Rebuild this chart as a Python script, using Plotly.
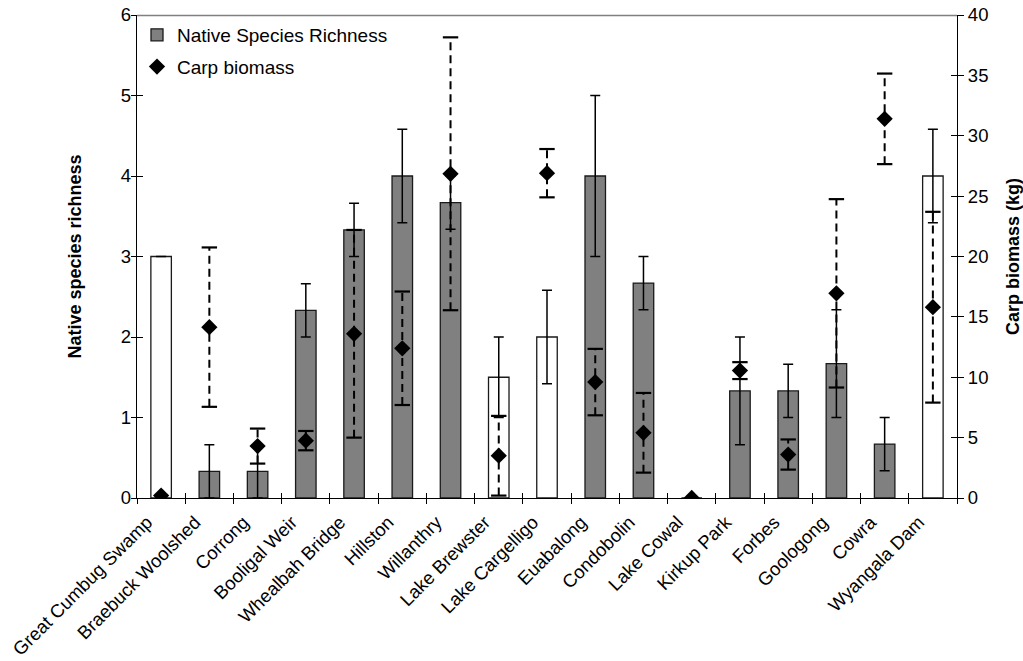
import plotly.graph_objects as go

# Sites along the Lachlan system, upstream to downstream order as plotted
sites = [
    "Great Cumbug Swamp", "Braebuck Woolshed", "Corrong", "Booligal Weir",
    "Whealbah Bridge", "Hillston", "Willanthry", "Lake Brewster",
    "Lake Cargelligo", "Euabalong", "Condobolin", "Lake Cowal",
    "Kirkup Park", "Forbes", "Goologong", "Cowra", "Wyangala Dam",
]
# Habitat type of each site (lentic sites drawn as open bars)
habitat = [
    "lentic", "riverine", "riverine", "riverine", "riverine", "riverine",
    "riverine", "lentic", "lentic", "riverine", "riverine", "lentic",
    "riverine", "riverine", "riverine", "riverine", "lentic",
]
native_richness = [3.0, 0.33, 0.33, 2.33, 3.33, 4.0, 3.67, 1.5, 2.0, 4.0,
                   2.67, 0.0, 1.33, 1.33, 1.67, 0.67, 4.0]
native_se = [None, 0.33, 0.33, 0.33, 0.33, 0.58, 0.33, 0.5, 0.58, 1.0,
             0.33, None, 0.67, 0.33, 0.67, 0.33, 0.58]
carp_biomass = [0.2, 14.15, 4.3, 4.75, 13.6, 12.4, 26.85, 3.5, 26.9, 9.6,
                5.4, 0.0, 10.55, 3.6, 16.95, 31.4, 15.8]
carp_se = [None, 6.6, 1.45, 0.8, 8.6, 4.7, 11.3, 3.3, 2.0, 2.75,
           3.3, None, 0.7, 1.25, 7.8, 3.75, 7.9]

FONT = "Liberation Sans, Arial, sans-serif"
fill = {"riverine": "#808080", "lentic": "#ffffff"}
n = len(sites)

fig = go.Figure()

# Native species richness bars with SE
for hab, show in (("riverine", True), ("lentic", False)):
    idx = [i for i, h in enumerate(habitat) if h == hab]
    fig.add_trace(go.Bar(
        x=[sites[i] for i in idx],
        y=[native_richness[i] for i in idx],
        error_y=dict(type="data", array=[native_se[i] for i in idx],
                     visible=True, color="#000000", thickness=1.5, width=5),
        marker=dict(color=fill[hab], line=dict(color="#1a1a1a", width=1.3)),
        name="Native Species Richness", showlegend=show,
        legendgroup="native", xaxis="x", yaxis="y",
    ))

# Carp biomass: dashed SE whiskers, caps and diamond means on the right axis
wx, wy, cx, cy = [], [], [], []
for s, v, e in zip(sites, carp_biomass, carp_se):
    if e is None:
        continue
    wx += [s, s, None]
    wy += [v - e, v + e, None]
    cx += [s, s]
    cy += [v - e, v + e]

fig.add_trace(go.Scatter(
    x=wx, y=wy, mode="lines", line=dict(color="#000000", width=2, dash="8px,5px"),
    showlegend=False, hoverinfo="skip", xaxis="x", yaxis="y2",
))
fig.add_trace(go.Scatter(
    x=cx, y=cy, mode="markers",
    marker=dict(symbol="line-ew", size=11, line=dict(color="#000000", width=2.2)),
    showlegend=False, hoverinfo="skip", xaxis="x", yaxis="y2",
))
fig.add_trace(go.Scatter(
    x=sites, y=carp_biomass, mode="markers",
    marker=dict(symbol="diamond", size=12.5, color="#000000", line=dict(width=0)),
    name="Carp biomass", legendgroup="carp", xaxis="x", yaxis="y2",
))

# Transparent copies of the series on the overlay axes, so that the inner
# halves of the crossing ticks are rendered
for xa, ya, vals in (("x2", "y3", native_richness), ("x2", "y4", carp_biomass)):
    fig.add_trace(go.Scatter(
        x=list(range(n)), y=vals, mode="markers", marker=dict(opacity=0),
        showlegend=False, hoverinfo="skip", xaxis=xa, yaxis=ya,
    ))

tick_font = dict(family=FONT, size=18.5, color="#000000")
title_font = dict(family=FONT, size=18, color="#000000")

fig.update_layout(
    width=1023, height=661,
    margin=dict(l=137, r=66, t=15, b=163, autoexpand=False),
    paper_bgcolor="#ffffff", plot_bgcolor="#ffffff",
    barmode="overlay", bargap=0.575,
    font=dict(family=FONT, color="#000000"),
    legend=dict(
        x=0.0, y=0.998, xanchor="left", yanchor="top",
        bgcolor="rgba(0,0,0,0)", font=dict(family=FONT, size=19),
        tracegroupgap=4, itemwidth=30,
    ),
    xaxis=dict(
        type="category", categoryorder="array", categoryarray=sites,
        range=[-0.5, n - 0.5], tickson="boundaries",
        ticks="outside", ticklen=5, tickwidth=1.2, tickcolor="#000000",
        tickangle=-45, tickfont=tick_font,
        ticklabelshift=-14, ticklabelstandoff=5,
        showline=True, linecolor="#000000", linewidth=1.3,
        showgrid=False, zeroline=False, fixedrange=True,
    ),
    # inner half of the crossing ticks on the category axis
    xaxis2=dict(
        overlaying="x", anchor="y", side="bottom", range=[-0.5, n - 0.5],
        tickmode="linear", tick0=-0.5, dtick=1,
        ticks="inside", ticklen=5, tickwidth=1.2, tickcolor="#000000",
        showticklabels=False, showline=False, showgrid=False, zeroline=False,
    ),
    yaxis=dict(
        range=[0, 6], tickmode="linear", tick0=0, dtick=1,
        ticks="outside", ticklen=5, tickwidth=1.2, tickcolor="#000000",
        tickfont=tick_font, ticklabelstandoff=-4,
        showline=True, linecolor="#000000", linewidth=1.3,
        showgrid=False, zeroline=False,
        title=dict(text="<b>Native species richness</b>", font=title_font, standoff=34),
    ),
    yaxis2=dict(
        overlaying="y", side="right", anchor="x",
        range=[0, 40], tickmode="linear", tick0=0, dtick=5,
        ticks="outside", ticklen=6, tickwidth=1.2, tickcolor="#000000",
        tickfont=tick_font, showline=True, linecolor="#000000", linewidth=1.3,
        showgrid=False, zeroline=False,
        title=dict(text="<b>Carp biomass (kg)</b>", font=title_font, standoff=23),
    ),
    # inner tick halves on the left and right value axes
    yaxis3=dict(
        overlaying="y", side="left", anchor="x", range=[0, 6],
        tickmode="linear", tick0=0, dtick=1,
        ticks="inside", ticklen=6, tickwidth=1.2, tickcolor="#000000",
        showticklabels=False, showline=False, showgrid=False, zeroline=False,
    ),
    yaxis4=dict(
        overlaying="y", side="right", anchor="x", range=[0, 40],
        tickmode="linear", tick0=0, dtick=5,
        ticks="inside", ticklen=6, tickwidth=1.2, tickcolor="#000000",
        showticklabels=False, showline=False, showgrid=False, zeroline=False,
    ),
    # grey frame line along the top of the plot area
    shapes=[dict(type="line", xref="x domain", yref="y domain",
                 x0=0, x1=1, y0=0.999, y1=0.999,
                 line=dict(color="#808080", width=1.6), layer="above")],
)

fig.write_html("out.html")
